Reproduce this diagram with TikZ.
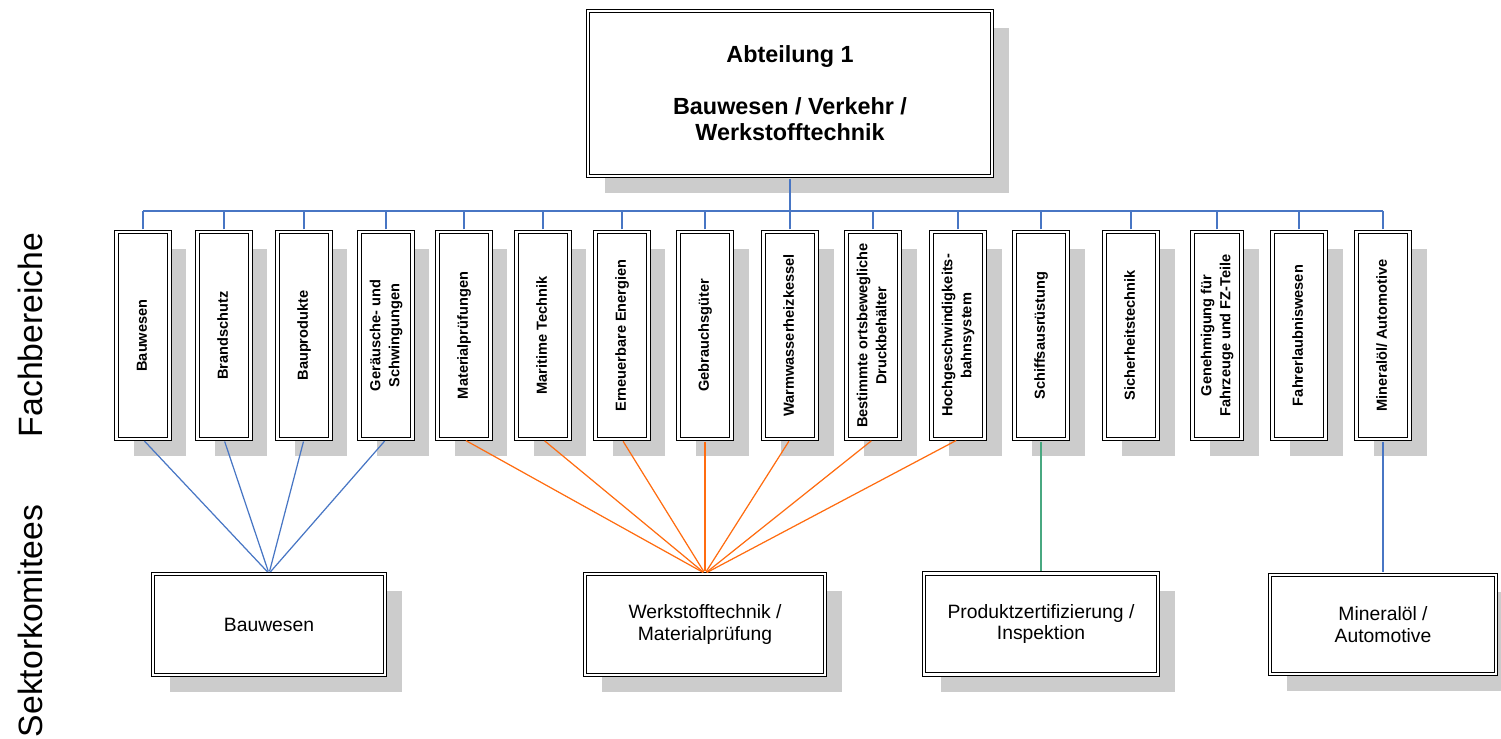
\documentclass[tikz,border=0pt]{standalone}
\usepackage{fontspec}
\setmainfont{Liberation Sans}
\usepackage{graphicx}
\usepackage{tikz}
\usetikzlibrary{shadows}

\definecolor{linkblue}{RGB}{72,118,196}
\definecolor{linkorange}{RGB}{255,108,16}
\definecolor{linkgreen}{RGB}{72,168,128}

\newcommand{\vlabel}[1]{\rotatebox{90}{\begin{tabular}{@{}c@{}}#1\end{tabular}}}

\tikzset{
  box/.style={draw, double, double distance=1.2pt, line width=0.6pt, fill=white, inner sep=0pt,
    drop shadow={opacity=1, fill=black!20, shadow xshift=0.34cm, shadow yshift=-0.34cm}},
  abteilung/.style={box, minimum width=8.08cm, minimum height=3.3cm, align=center,
    font=\fontsize{13.3}{14.8}\selectfont\bfseries},
  fach/.style={box, minimum width=1.06cm, minimum height=4.14cm,
    font=\fontsize{8.3}{10.8}\selectfont\bfseries},
  sektor/.style={box, minimum height=2.02cm, align=center, font=\fontsize{11}{12.5}\selectfont},
  seite/.style={rotate=90, font=\fontsize{19.2}{22}\selectfont},
  bus/.style={line width=0.7pt, draw=linkblue, shorten <=1.2pt},
  link/.style={line width=0.7pt, shorten <=1.2pt, shorten >=1.2pt}
}

\begin{document}
\begin{tikzpicture}[x=0.02cm, y=-0.02cm]
  \useasboundingbox (0,0) rectangle (1501,738);

  \node [abteilung] (abt) at (790,93.5) {Abteilung 1\\[14.8pt]Bauwesen / Verkehr /\\Werkstofftechnik};

  % Fachbereiche
  \node [fach] (fb_1) at (143,335.5) {\vlabel{Bauwesen}};
  \node [fach] (fb_2) at (224,335.5) {\vlabel{Brandschutz}};
  \node [fach] (fb_3) at (304,335.5) {\vlabel{Bauprodukte}};
  \node [fach] (fb_4) at (386,335.5) {\vlabel{Geräusche- und\\Schwingungen}};
  \node [fach] (fb_5) at (464,335.5) {\vlabel{Materialprüfungen}};
  \node [fach] (fb_6) at (543,335.5) {\vlabel{Maritime Technik}};
  \node [fach] (fb_7) at (622,335.5) {\vlabel{Erneuerbare Energien}};
  \node [fach] (fb_8) at (705,335.5) {\vlabel{Gebrauchsgüter}};
  \node [fach] (fb_9) at (790,335.5) {\vlabel{Warmwasserheizkessel}};
  \node [fach] (fb_10) at (873,335.5) {\vlabel{Bestimmte ortsbewegliche\\Druckbehälter}};
  \node [fach] (fb_11) at (958,335.5) {\vlabel{Hochgeschwindigkeits-\\bahnsystem}};
  \node [fach] (fb_12) at (1041,335.5) {\vlabel{Schiffsausrüstung}};
  \node [fach] (fb_13) at (1131,335.5) {\vlabel{Sicherheitstechnik}};
  \node [fach, minimum width=0.98cm] (fb_14) at (1217,335.5) {\vlabel{Genehmigung für\\Fahrzeuge und FZ-Teile}};
  \node [fach] (fb_15) at (1299,335.5) {\vlabel{Fahrerlaubniswesen}};
  \node [fach] (fb_16) at (1383,335.5) {\vlabel{Mineralöl/ Automotive}};

  % Sektorkomitees
  \node [sektor, minimum width=4.64cm] (sk_1) at (269,624.5) {Bauwesen};
  \node [sektor, minimum width=4.8cm] (sk_2) at (705,624.5) {Werkstofftechnik /\\Materialprüfung};
  \node [sektor, minimum width=4.68cm] (sk_3) at (1041,624) {Produktzertifizierung /\\Inspektion};
  \node [sektor, minimum width=4.52cm, minimum height=1.98cm] (sk_4) at (1383,624.5) {Mineralöl /\\Automotive};

  \node [seite] (lbl_fach) at (30,335) {Fachbereiche};
  \node [seite] (lbl_sektor) at (30,621) {Sektorkomitees};

  % Verbindung Abteilung -> Fachbereiche
  \coordinate (bus) at (790,211);
  \path[bus]
    (abt.south) edge (bus)
    (fb_1.north |- bus) edge[shorten <=0pt] (fb_16.north |- bus)
    (fb_1.north) edge (fb_1.north |- bus)
    (fb_2.north) edge (fb_2.north |- bus)
    (fb_3.north) edge (fb_3.north |- bus)
    (fb_4.north) edge (fb_4.north |- bus)
    (fb_5.north) edge (fb_5.north |- bus)
    (fb_6.north) edge (fb_6.north |- bus)
    (fb_7.north) edge (fb_7.north |- bus)
    (fb_8.north) edge (fb_8.north |- bus)
    (fb_9.north) edge (fb_9.north |- bus)
    (fb_10.north) edge (fb_10.north |- bus)
    (fb_11.north) edge (fb_11.north |- bus)
    (fb_12.north) edge (fb_12.north |- bus)
    (fb_13.north) edge (fb_13.north |- bus)
    (fb_14.north) edge (fb_14.north |- bus)
    (fb_15.north) edge (fb_15.north |- bus)
    (fb_16.north) edge (fb_16.north |- bus);

  % Fachbereiche -> Sektorkomitees
  \path[link, draw=linkblue]
    (fb_1.south) edge (sk_1.north)
    (fb_2.south) edge (sk_1.north)
    (fb_3.south) edge (sk_1.north)
    (fb_4.south) edge (sk_1.north)
    (fb_16.south) edge (sk_4.north);
  \path[link, draw=linkorange]
    (fb_5.south) edge (sk_2.north)
    (fb_6.south) edge (sk_2.north)
    (fb_7.south) edge (sk_2.north)
    (fb_8.south) edge (sk_2.north)
    (fb_9.south) edge (sk_2.north)
    (fb_10.south) edge (sk_2.north)
    (fb_11.south) edge (sk_2.north);
  \path[link, draw=linkgreen]
    (fb_12.south) edge (sk_3.north);
\end{tikzpicture}
\end{document}
